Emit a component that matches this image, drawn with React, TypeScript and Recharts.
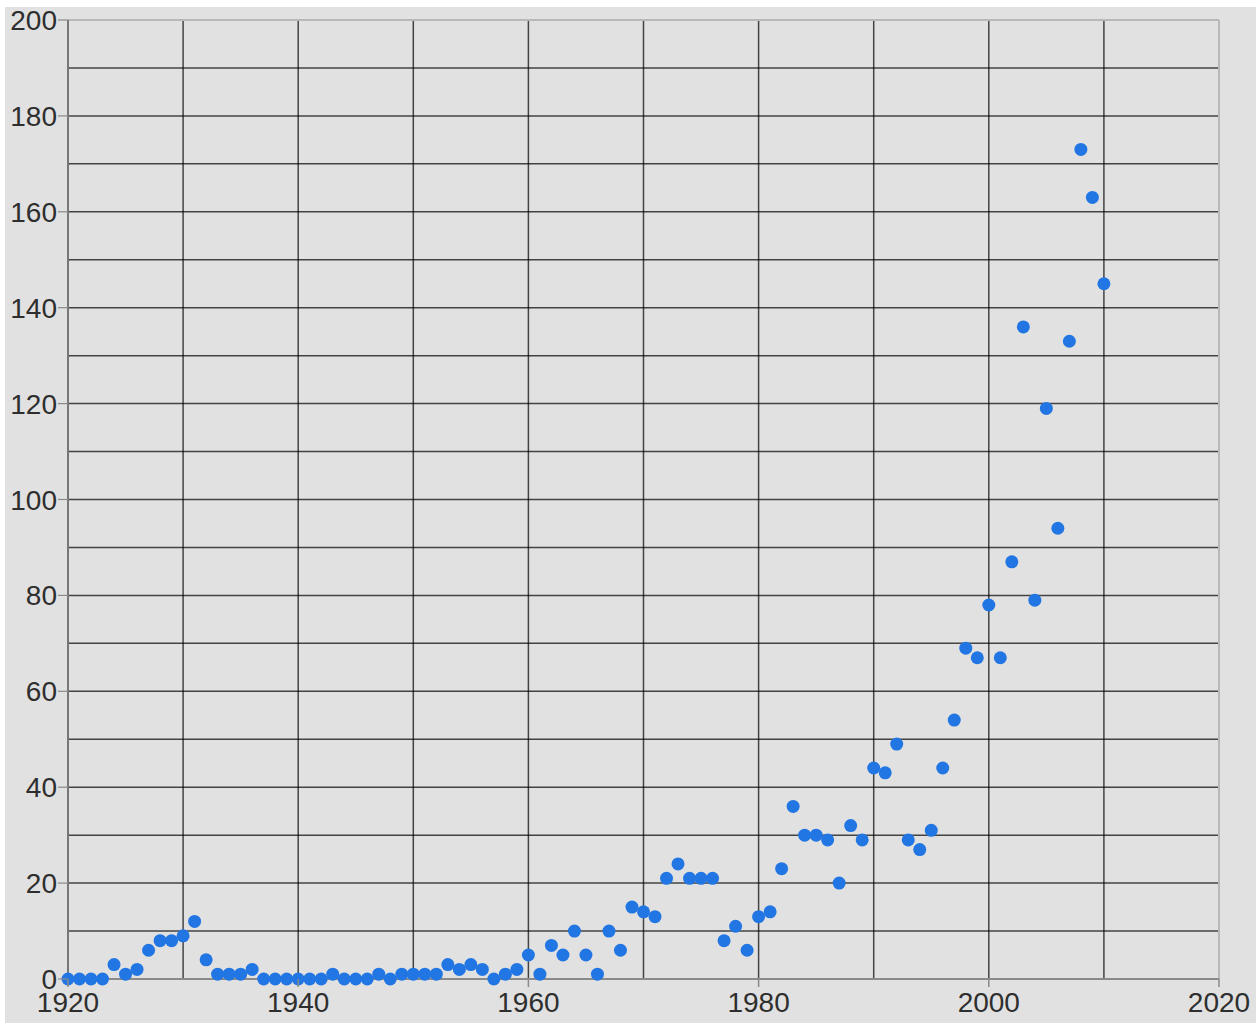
import { ScatterChart, Scatter, XAxis, YAxis, CartesianGrid, ReferenceLine } from "recharts";

const years = [
  1920, 1921, 1922, 1923, 1924, 1925, 1926, 1927, 1928, 1929,
  1930, 1931, 1932, 1933, 1934, 1935, 1936, 1937, 1938, 1939,
  1940, 1941, 1942, 1943, 1944, 1945, 1946, 1947, 1948, 1949,
  1950, 1951, 1952, 1953, 1954, 1955, 1956, 1957, 1958, 1959,
  1960, 1961, 1962, 1963, 1964, 1965, 1966, 1967, 1968, 1969,
  1970, 1971, 1972, 1973, 1974, 1975, 1976, 1977, 1978, 1979,
  1980, 1981, 1982, 1983, 1984, 1985, 1986, 1987, 1988, 1989,
  1990, 1991, 1992, 1993, 1994, 1995, 1996, 1997, 1998, 1999,
  2000, 2001, 2002, 2003, 2004, 2005, 2006, 2007, 2008, 2009,
  2010,
];

const counts = [
  0, 0, 0, 0, 3, 1, 2, 6, 8, 8,
  9, 12, 4, 1, 1, 1, 2, 0, 0, 0,
  0, 0, 0, 1, 0, 0, 0, 1, 0, 1,
  1, 1, 1, 3, 2, 3, 2, 0, 1, 2,
  5, 1, 7, 5, 10, 5, 1, 10, 6, 15,
  14, 13, 21, 24, 21, 21, 21, 8, 11, 6,
  13, 14, 23, 36, 30, 30, 29, 20, 32, 29,
  44, 43, 49, 29, 27, 31, 44, 54, 69, 67,
  78, 67, 87, 136, 79, 119, 94, 133, 173, 163,
  145,
];

const xTicks = [1920, 1930, 1940, 1950, 1960, 1970, 1980, 1990, 2000, 2010, 2020];
const yTicks = [0, 10, 20, 30, 40, 50, 60, 70, 80, 90, 100, 110, 120, 130, 140, 150, 160, 170, 180, 190, 200];

const points = years.map((year, i) => ({ year, count: counts[i] }));

const FONT = "'Liberation Sans', Arial, Helvetica, sans-serif";

const XTick = ({ x, y, payload }: any) => {
  if (payload.value % 20 !== 0) return null;
  return (
    <g>
      <line x1={x} y1={y - 8} x2={x} y2={y} stroke="#8a8a8a" strokeWidth={1.5} />
      <text x={x} y={y + 25} textAnchor="middle" fontSize={28} fontFamily={FONT} fill="#2e2e2e">
        {payload.value}
      </text>
    </g>
  );
};

const YTick = ({ x, y, payload }: any) => {
  if (payload.value % 20 !== 0) return null;
  return (
    <g>
      <line x1={x} y1={y} x2={x + 10} y2={y} stroke="#8a8a8a" strokeWidth={1.2} />
      <text x={x - 1} y={y + 10} textAnchor="end" fontSize={28} fontFamily={FONT} fill="#2e2e2e">
        {payload.value}
      </text>
    </g>
  );
};

export default function App() {
  return (
    <div style={{ position: "absolute", left: 5, top: 7, width: 1251, height: 1016, background: "#e1e1e1" }}>
      <ScatterChart width={1251} height={1016} margin={{ top: 13, right: 37, bottom: 0, left: 0 }}>
        <CartesianGrid stroke="#000" strokeOpacity={0.7} strokeWidth={1.5} />
        <XAxis
          type="number"
          dataKey="year"
          domain={[1920, 2020]}
          ticks={xTicks}
          interval={0}
          height={44}
          tickLine={false}
          tickSize={8}
          tickMargin={0}
          tick={<XTick />}
          axisLine={{ stroke: "#8a8a8a", strokeWidth: 2 }}
        />
        <YAxis
          type="number"
          dataKey="count"
          domain={[0, 200]}
          ticks={yTicks}
          interval={0}
          width={63}
          tickLine={false}
          tickSize={10}
          tickMargin={0}
          tick={<YTick />}
          axisLine={{ stroke: "#777", strokeWidth: 2 }}
        />
        <ReferenceLine y={200} stroke="#b8b8b8" strokeWidth={2} />
        <ReferenceLine x={2020} stroke="#b8b8b8" strokeWidth={2} />
        <Scatter
          data={points}
          isAnimationActive={false}
          shape={(p: any) => <circle cx={p.cx} cy={p.cy} r={6.5} fill="#2176e3" />}
        />
      </ScatterChart>
    </div>
  );
}
